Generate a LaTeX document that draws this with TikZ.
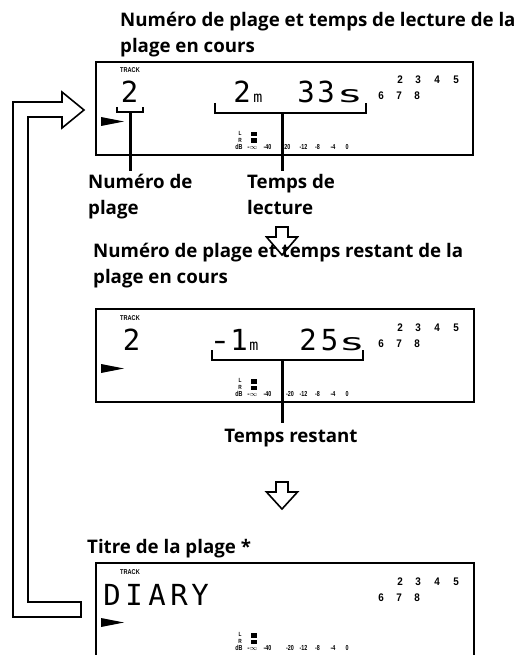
\documentclass[tikz,border=0pt]{standalone}
\usepackage{fontspec}
\setmainfont{Open Sans}
\newfontfamily\lcdfont{DejaVu Sans Mono}
\newfontfamily\smsans{Liberation Sans}
\begin{document}
\begin{tikzpicture}[x=1pt,y=-1pt,
  lab/.style={font=\fontsize{18.7}{22}\selectfont\bfseries, anchor=base west, inner sep=0pt},
  labc/.style={font=\fontsize{18.7}{22}\selectfont\bfseries, anchor=base, inner sep=0pt},
  lcd/.style={font=\lcdfont\fontsize{29}{29}\selectfont, anchor=base, inner sep=0pt},
  lcdm/.style={font=\lcdfont\fontsize{15}{15}\selectfont, anchor=base, inner sep=0pt},
  trk/.style={font=\smsans\bfseries\fontsize{11}{11}\selectfont, anchor=base, inner sep=0pt},
  tracklab/.style={font=\smsans\bfseries\fontsize{7}{7}\selectfont, anchor=base, inner sep=0pt},
  met/.style={font=\smsans\bfseries\fontsize{7.2}{7.2}\selectfont, anchor=base, inner sep=0pt},
  metsm/.style={font=\smsans\bfseries\fontsize{6}{6}\selectfont, anchor=base, inner sep=0pt},
  lcdbox/.style={line width=1.3pt},
  brk/.style={line width=2pt},
  lead/.style={line width=3pt},
  hollow/.style={draw, line width=1.6pt, fill=white, line join=miter},
]
\useasboundingbox (0,0) rectangle (529,655);

% common panel elements
\newcommand{\panelparts}{%
  \node[tracklab] (trk) at (130,11) {\scalebox{0.8}[1]{TRACK}};
  \fill (101,55) -- (124,59.5) -- (101,64) -- cycle;
  \node[trk] (n2) at (400,22) {\scalebox{0.9}[1]{2}};
  \node[trk] (n3) at (418,22) {\scalebox{0.9}[1]{3}};
  \node[trk] (n4) at (437,22) {\scalebox{0.9}[1]{4}};
  \node[trk] (n5) at (456,22) {\scalebox{0.9}[1]{5}};
  \node[trk] (n6) at (381,38) {\scalebox{0.9}[1]{6}};
  \node[trk] (n7) at (399,38) {\scalebox{0.9}[1]{7}};
  \node[trk] (n8) at (417,38) {\scalebox{0.9}[1]{8}};
  \node[metsm] (mL) at (240,73.5) {\scalebox{0.8}[1]{L}};
  \node[metsm] (mR) at (240,80.5) {\scalebox{0.8}[1]{R}};
  \node[met] (mdB) at (239,87.5) {\scalebox{0.75}[1]{dB}};
  \fill (251,70) rectangle (257,74.5);
  \fill (251,76.5) rectangle (257,81);
  \node[met] (minf) at (252.5,87.5) {-$\infty$};
  \node[met] (m40) at (267.5,87.5) {\scalebox{0.75}[1]{-40}};
  \node[met] (m12) at (303.5,87.5) {\scalebox{0.75}[1]{-12}};
  \node[met] (m8) at (317.5,87.5) {\scalebox{0.75}[1]{-8}};
  \node[met] (m4) at (333,87.5) {\scalebox{0.75}[1]{-4}};
  \node[met] (m0) at (347,87.5) {\scalebox{0.75}[1]{0}};
}

% ---------- headings ----------
\node[lab] (t1) at (120,27) {Numéro de plage et temps de lecture de la};
\node[lab] (t2) at (120,53) {plage en cours};

% ---------- panel 1 ----------
\begin{scope}[shift={(0,62)}, name prefix=pa-]
  \draw[lcdbox] (96,0) rectangle (473,93);
  \panelparts
  \node[met] (m20) at (286.5,87.5) {\scalebox{0.75}[1]{-20}};
  \node[lcd] (d1) at (129.5,41) {2};
  \node[lcd] (d2) at (242,41) {2};
  \node[lcdm] (dm) at (258,41) {m};
  \node[lcd] (d3) at (306,41) {3};
  \node[lcd] (d4) at (326,41) {3};
  \node[lcd] (ds) at (350,41) {\scalebox{1.5}[0.8]{s}};
  \draw[brk] (117,45) -- (117,50.5) -- (143,50.5) -- (143,45);
  \coordinate (bn) at (130,50.5);
  \draw[brk] (215,41) -- (215,51) -- (366,51) -- (366,41);
  \coordinate (bt) at (282,51);
\end{scope}

\node[lab] (l1a) at (88,188) {Numéro de};
\node[lab] (l1b) at (88,214) {plage};
\node[lab] (l2a) at (247,188) {Temps de};
\node[lab] (l2b) at (247,214) {lecture};
\coordinate (e1) at (130,171);
\coordinate (e2) at (282,171);
\draw[lead] (pa-bn) -- (e1);
\draw[lead] (pa-bt) -- (e2);

% down arrow 1
\draw[hollow] (276,227) -- (288,227) -- (288,237) -- (297.5,237) -- (282,255) -- (266.5,237) -- (276,237) -- cycle;

\node[lab] (t3) at (93,257) {Numéro de plage et temps restant de la};
\node[lab] (t4) at (93,283) {plage en cours};

% ---------- panel 2 ----------
\begin{scope}[shift={(0,309)}, name prefix=pb-]
  \draw[lcdbox] (96,0) rectangle (474,93);
  \panelparts
  \node[met] (m20) at (290,87.5) {\scalebox{0.75}[1]{-20}};
  \node[lcd] (d1) at (131.5,41) {2};
  \node[lcd] (dminus) at (220,41) {\scalebox{1.3}[1]{-}};
  \node[lcd] (d2) at (239,41) {1};
  \node[lcdm] (dm) at (254,41) {m};
  \node[lcd] (d3) at (308,41) {2};
  \node[lcd] (d4) at (329.5,41) {5};
  \node[lcd] (ds) at (352,41) {\scalebox{1.5}[0.8]{s}};
  \draw[brk] (212,41) -- (212,51) -- (363,51) -- (363,41);
  \coordinate (bt) at (282,51);
\end{scope}

\node[labc] (l3) at (291,442) {Temps restant};
\coordinate (e3) at (282,423);
\draw[lead] (pb-bt) -- (e3);

% down arrow 2
\draw[hollow] (276,482) -- (288,482) -- (288,492) -- (297.5,492) -- (282,509) -- (266.5,492) -- (276,492) -- cycle;

\node[lab] (t5) at (87,553) {Titre de la plage *};

% ---------- panel 3 ----------
\begin{scope}[shift={(0,563)}, name prefix=pc-]
  \draw[lcdbox] (96,92) -- (96,0) -- (474,0) -- (474,92);
  \panelparts
  \node[met] (m20) at (290,87.5) {\scalebox{0.75}[1]{-20}};
  \node[lcd] (c1) at (112,42) {D};
  \node[lcd] (c2) at (134,42) {I};
  \node[lcd] (c3) at (157,42) {A};
  \node[lcd] (c4) at (179,42) {R};
  \node[lcd] (c5) at (200,42) {Y};
\end{scope}

% ---------- loop-back arrow ----------
\draw[hollow] (81,602) -- (28,602) -- (28,117) -- (62,117) -- (62,128) -- (84,110)
  -- (62,92) -- (62,102) -- (13,102) -- (13,617) -- (81,617) -- cycle;
\end{tikzpicture}
\end{document}
